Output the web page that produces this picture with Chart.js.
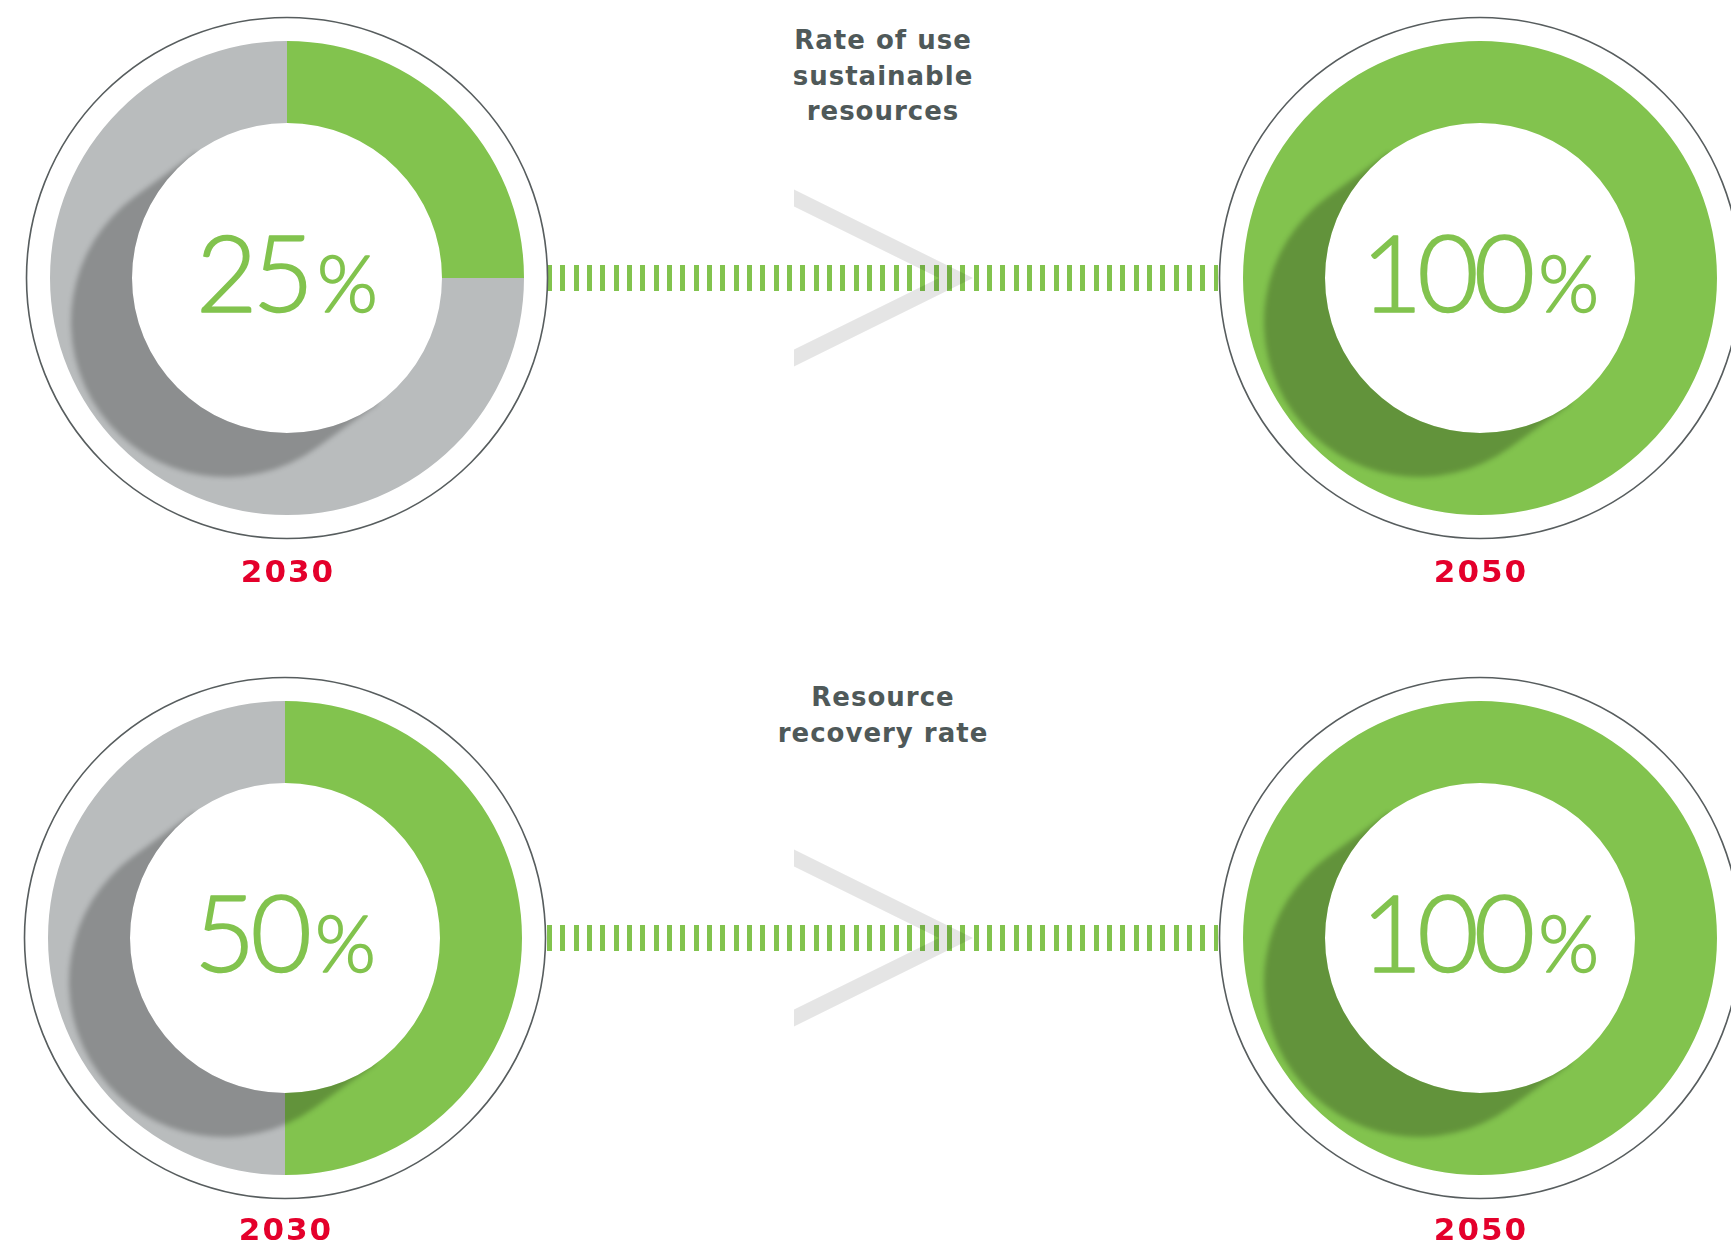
<!DOCTYPE html>
<html>
<head>
<meta charset="utf-8">
<script src="https://cdn.jsdelivr.net/npm/chart.js@4.4.1/dist/chart.umd.min.js"></script>
<style>
    html, body { margin: 0; padding: 0; background: #fff; }
    body { width: 1731px; height: 1245px; overflow: hidden; position: relative; }
    canvas.ring { position: absolute; }
    .dashes {
        position: absolute; left: 547px; width: 671px; height: 26px;
        background: repeating-linear-gradient(to right, #82c34e 0 5px, transparent 5px 13.333px);
    }
    .title {
        position: absolute; left: 633px; width: 500px; text-align: center;
        font: 700 26px "DejaVu Sans", sans-serif; letter-spacing: 1px;
        line-height: 35.5px; color: #4f5959;
    }
    .year {
        position: absolute; width: 200px; text-align: center;
        font: 700 31px "DejaVu Sans", sans-serif; letter-spacing: 2px;
        line-height: 40px; color: #e4002b;
    }
    svg.deco { position: absolute; left: 0; top: 0; }
</style>
</head>
<body>
<script>
// --- données ---
const rowTitles = [
    ['Rate of use', 'sustainable', 'resources'],
    ['Resource', 'recovery rate']
];
const years = ['2030', '2050'];
const values2030 = [25, 50];   // % atteint en 2030, par ligne
const values2050 = [100, 100]; // % atteint en 2050, par ligne

// --- mise en page ---
const rowCenterY = [278, 938];
const colCenterX = [[287, 1480], [285, 1480]];
const titleTop = [23, 680];
const yearTop = [551, 1209];
const CANVAS = 560;
const GREEN = '#82c34e';
const GREY = '#b9bcbd';

// ombre portée + cercle fin + libellé central
const ringDecor = {
    id: 'ringDecor',
    afterDatasetsDraw(chart) {
        const arc = chart.getDatasetMeta(0).data[0];
        const { x, y, innerRadius: ri, outerRadius: ro } =
            arc.getProps(['x', 'y', 'innerRadius', 'outerRadius'], true);
        const ctx = chart.ctx;

        // ombre dans l'anneau (cercle intérieur "extrudé" vers le bas-gauche)
        ctx.save();
        ctx.beginPath();
        ctx.arc(x, y, ro, 0, Math.PI * 2);
        ctx.arc(x, y, ri, 0, Math.PI * 2, true);
        ctx.clip();
        ctx.filter = 'blur(2.5px)';
        const dx = -61, dy = 44, th = Math.atan2(dy, dx);
        const a1 = th - Math.PI / 2, a2 = th + Math.PI / 2;
        ctx.beginPath();
        ctx.arc(x + dx, y + dy, ri, a1, a2);
        ctx.lineTo(x + ri * Math.cos(a2), y + ri * Math.sin(a2));
        ctx.arc(x, y, ri - 12, a2, a1 + Math.PI * 2);
        ctx.lineTo(x + ri * Math.cos(a1), y + ri * Math.sin(a1));
        ctx.closePath();
        ctx.fillStyle = 'rgba(0,0,0,0.245)';
        ctx.fill();
        ctx.restore();

        // cercle extérieur
        ctx.save();
        ctx.beginPath();
        ctx.arc(x, y, ro + 23.5, 0, Math.PI * 2);
        ctx.strokeStyle = '#575d5e';
        ctx.lineWidth = 1.6;
        ctx.stroke();
        ctx.restore();

        // valeur
        const v = chart.data.datasets[0].data[0];
        const bigFont = '300 106px Lato, "Open Sans", sans-serif';
        const pctFont = '300 78px Lato, "Open Sans", sans-serif';
        ctx.save();
        ctx.fillStyle = GREEN;
        ctx.strokeStyle = GREEN;
        ctx.lineWidth = 1.6;
        ctx.lineJoin = 'round';
        ctx.textBaseline = 'alphabetic';
        const num = String(v);
        ctx.font = bigFont; ctx.letterSpacing = '-5px';
        const wN = ctx.measureText(num).width;
        ctx.font = pctFont; ctx.letterSpacing = '0px';
        const wP = ctx.measureText('%').width;
        const gap = 8;
        const x0 = x - (wN + gap + wP) / 2;
        const base = y + 34;
        ctx.font = bigFont; ctx.letterSpacing = '-5px';
        ctx.fillText(num, x0, base);
        ctx.strokeText(num, x0, base);
        ctx.font = pctFont; ctx.letterSpacing = '0px';
        ctx.fillText('%', x0 + wN + gap, base);
        ctx.strokeText('%', x0 + wN + gap, base);
        ctx.restore();
    }
};

function makeRing(cx, cy, value) {
    const canvas = document.createElement('canvas');
    canvas.className = 'ring';
    canvas.width = CANVAS; canvas.height = CANVAS;
    canvas.style.left = (cx - CANVAS / 2) + 'px';
    canvas.style.top = (cy - CANVAS / 2) + 'px';
    document.body.appendChild(canvas);

    return new Chart(canvas, {
        type: 'doughnut',
        data: {
            labels: ['atteint', 'reste'],
            datasets: [{
                data: [value, 100 - value],
                backgroundColor: [GREEN, GREY],
                borderWidth: 0
            }]
        },
        options: {
            responsive: false,
            animation: false,
            events: [],
            radius: 237,
            cutout: '65.4%',
            layout: { padding: 0 },
            plugins: { legend: { display: false }, tooltip: { enabled: false } }
        },
        plugins: [ringDecor]
    });
}

rowCenterY.forEach((cy, r) => {
    // pointillés
    const d = document.createElement('div');
    d.className = 'dashes';
    d.style.top = (cy - 13) + 'px';
    document.body.appendChild(d);

    makeRing(colCenterX[r][0], cy, values2030[r]);
    makeRing(colCenterX[r][1], cy, values2050[r]);

    // titres
    const t = document.createElement('div');
    t.className = 'title';
    t.innerHTML = rowTitles[r].join('<br>');
    t.style.top = titleTop[r] + 'px';
    document.body.appendChild(t);

    // années
    years.forEach((yr, c) => {
        const el = document.createElement('div');
        el.className = 'year';
        el.textContent = yr;
        el.style.left = (colCenterX[r][c] - 99) + 'px';
        el.style.top = yearTop[r] + 'px';
        document.body.appendChild(el);
    });
});

// chevrons ">"
const svgNS = 'http://www.w3.org/2000/svg';
const svg = document.createElementNS(svgNS, 'svg');
svg.setAttribute('class', 'deco');
svg.setAttribute('width', 1731); svg.setAttribute('height', 1245);
rowCenterY.forEach(cy => {
    const p = document.createElementNS(svgNS, 'polygon');
    const pts = [[794, -88.5], [973, 0], [794, 88.5], [794, 71.5], [939, 0], [794, -71.5]];
    p.setAttribute('points', pts.map(q => q[0] + ',' + (cy + q[1])).join(' '));
    p.setAttribute('fill', 'rgba(0,0,0,0.1)');
    svg.appendChild(p);
});
document.body.appendChild(svg);
</script>
</body>
</html>
